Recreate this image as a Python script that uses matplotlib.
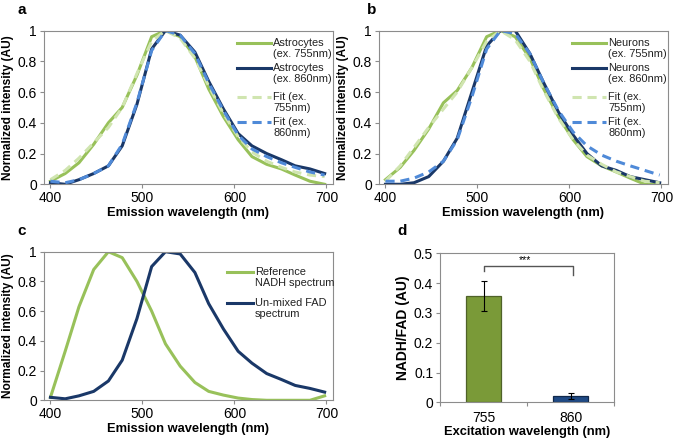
import matplotlib.pyplot as plt
from matplotlib.lines import Line2D
from matplotlib.ticker import FuncFormatter

plt.rcParams['font.family'] = ['Liberation Sans', 'DejaVu Sans']

# emission wavelengths (nm)
wavelength = [400, 416, 431, 447, 463, 478, 494, 510, 525, 541,
              557, 572, 588, 604, 619, 635, 651, 666, 682, 698]

# panel a - astrocytes
astro_755 = [0.02, 0.07, 0.14, 0.26, 0.40, 0.50, 0.71, 0.96, 1.00, 0.96,
             0.83, 0.62, 0.44, 0.29, 0.18, 0.13, 0.10, 0.06, 0.02, 0.00]
astro_860 = [0.01, 0.00, 0.03, 0.07, 0.12, 0.25, 0.52, 0.88, 1.00, 0.97,
             0.86, 0.67, 0.49, 0.33, 0.25, 0.20, 0.16, 0.12, 0.10, 0.07]
astro_fit_755 = [0.03, 0.09, 0.17, 0.27, 0.37, 0.50, 0.72, 0.93, 1.00, 0.95,
                 0.82, 0.64, 0.46, 0.31, 0.21, 0.15, 0.11, 0.08, 0.06, 0.05]
astro_fit_860 = [0.02, 0.01, 0.03, 0.07, 0.12, 0.26, 0.53, 0.87, 1.00, 0.97,
                 0.85, 0.66, 0.48, 0.32, 0.23, 0.18, 0.14, 0.11, 0.08, 0.06]

# panel b - neurons
neuron_755 = [0.03, 0.11, 0.22, 0.36, 0.53, 0.61, 0.76, 0.96, 1.00, 0.96,
              0.82, 0.62, 0.44, 0.29, 0.18, 0.12, 0.08, 0.04, 0.00, 0.00]
neuron_860 = [0.00, 0.00, 0.01, 0.05, 0.15, 0.30, 0.60, 0.90, 1.00, 1.00,
              0.85, 0.66, 0.47, 0.32, 0.20, 0.12, 0.09, 0.05, 0.03, 0.01]
neuron_fit_755 = [0.02, 0.12, 0.24, 0.37, 0.49, 0.60, 0.76, 0.93, 1.00, 0.94,
                  0.80, 0.61, 0.43, 0.29, 0.19, 0.13, 0.08, 0.05, 0.02, 0.01]
neuron_fit_860 = [0.02, 0.02, 0.04, 0.08, 0.15, 0.29, 0.57, 0.88, 1.00, 0.98,
                  0.85, 0.66, 0.48, 0.34, 0.25, 0.19, 0.15, 0.12, 0.09, 0.06]

# panel c - reference spectra
nadh_ref = [0.02, 0.33, 0.63, 0.88, 1.00, 0.96, 0.80, 0.60, 0.38, 0.23,
            0.12, 0.06, 0.035, 0.015, 0.005, 0.0, 0.0, 0.0, 0.0, 0.03]
fad_unmixed = [0.02, 0.01, 0.03, 0.06, 0.13, 0.27, 0.55, 0.90, 1.00, 0.985,
               0.86, 0.65, 0.48, 0.33, 0.25, 0.18, 0.14, 0.10, 0.08, 0.055]

# panel d - ratio
excitation = ['755', '860']
ratio = [0.358, 0.021]
ratio_err = [0.05, 0.01]

green = '#98c15a'
light_green = '#d0e5b0'
navy = '#1a3868'
blue = '#4f8ad8'
frame = '#8c8c8c'

fig = plt.figure(figsize=(6.75, 4.43), dpi=100)
ax_a = fig.add_axes([0.0652, 0.584, 0.428, 0.347])
ax_b = fig.add_axes([0.5615, 0.584, 0.428, 0.347])
ax_c = fig.add_axes([0.0652, 0.0964, 0.428, 0.3354])
ax_d = fig.add_axes([0.652, 0.0919, 0.258, 0.336])

dash = (3.0, 1.9)


def style(ax):
    for s in ax.spines.values():
        s.set_color(frame)
        s.set_linewidth(0.8)
    ax.tick_params(length=3, width=0.8, color=frame, labelsize=10, pad=2)


def spectrum_axes(ax):
    style(ax)
    ax.set_xlim(393, 707)
    ax.set_ylim(0, 1)
    ax.set_xticks([400, 500, 600, 700])
    ax.set_yticks([0, 0.2, 0.4, 0.6, 0.8, 1])
    ax.yaxis.set_major_formatter(FuncFormatter(lambda v, p: '%g' % v))
    ax.set_xlabel('Emission wavelength (nm)', fontsize=9.3, fontweight='bold', labelpad=1)
    ax.set_ylabel('Normalized intensity (AU)', fontsize=8.6, fontweight='bold', labelpad=3)


def legend(ax, entries, x0, x1, ys):
    # two-line legend entries, handle level with the first line (Excel style)
    dy = 10.9 / (ax.get_position().height * 443)
    for (label, color, ls), y in zip(entries, ys):
        if ls == '--':
            ax.add_line(Line2D([x0, x1], [y, y], transform=ax.transAxes, color=color,
                               lw=2.2, dashes=dash))
        else:
            ax.add_line(Line2D([x0, x1], [y, y], transform=ax.transAxes, color=color, lw=2.2))
        for k, line in enumerate(label.split('\n')):
            ax.text(x1 + 0.008, y - k * dy, line, transform=ax.transAxes, fontsize=7.9,
                    va='center', ha='left', color='#222222')


def draw_fit_panel(ax, m755, m860, f755, f860, name):
    spectrum_axes(ax)
    ax.plot(wavelength, m755, color=green, lw=2.2)
    ax.plot(wavelength, m860, color=navy, lw=2.2)
    ax.plot(wavelength, f755, color=light_green, lw=2.2, dashes=dash)
    ax.plot(wavelength, f860, color=blue, lw=2.2, dashes=dash)
    entries = [(name + '\n(ex. 755nm)', green, '-'),
               (name + '\n(ex. 860nm)', navy, '-'),
               ('Fit (ex.\n755nm)', light_green, '--'),
               ('Fit (ex.\n860nm)', blue, '--')]
    legend(ax, entries, 0.668, 0.785, [0.918, 0.755, 0.568, 0.405])


draw_fit_panel(ax_a, astro_755, astro_860, astro_fit_755, astro_fit_860, 'Astrocytes')
draw_fit_panel(ax_b, neuron_755, neuron_860, neuron_fit_755, neuron_fit_860, 'Neurons')

spectrum_axes(ax_c)
ax_c.plot(wavelength, nadh_ref, color=green, lw=2.2)
ax_c.plot(wavelength, fad_unmixed, color=navy, lw=2.2)
legend(ax_c, [('Reference\nNADH spectrum', green, '-'),
              ('Un-mixed FAD\nspectrum', navy, '-')],
       0.633, 0.723, [0.865, 0.653])

# panel d
style(ax_d)
x = [0, 1]
bars = ax_d.bar(x, ratio, width=0.4, color=['#7a9a38', '#1f4a85'], linewidth=0.9)
bars[0].set_edgecolor('#4f6228')
bars[1].set_edgecolor('#10284a')
ax_d.errorbar(x, ratio, yerr=ratio_err, fmt='none', ecolor='black', elinewidth=0.8,
              capsize=2.5, capthick=0.8)
ax_d.set_xlim(-0.5, 1.5)
ax_d.set_ylim(0, 0.5)
ax_d.set_yticks([0, 0.1, 0.2, 0.3, 0.4, 0.5])
ax_d.yaxis.set_major_formatter(FuncFormatter(lambda v, p: '%g' % v))
ax_d.set_xticks(x, excitation)
ax_d.tick_params(axis='x', length=0, pad=6)
ax_d.set_xticks([-0.5, 0.5, 1.5], minor=True)
ax_d.tick_params(axis='x', which='minor', length=3, color=frame, width=0.8)
ax_d.set_xlabel('Excitation wavelength (nm)', fontsize=9.3, fontweight='bold', labelpad=1)
ax_d.set_ylabel('NADH/FAD (AU)', fontsize=10, fontweight='bold', labelpad=3)
ax_d.plot([0, 0, 1.03, 1.03], [0.44, 0.457, 0.457, 0.427], color='#555555', lw=1)
ax_d.text(0.48, 0.462, '***', ha='center', va='bottom', fontsize=7.5)

# panel letters
for lbl, (px, py) in zip('abcd', [(17, 10), (367, 10), (17, 231), (397, 231)]):
    fig.text(px / 675, 1 - py / 443, lbl, fontsize=11, fontweight='bold', ha='left', va='center')

fig.savefig('out.png', dpi=100)
